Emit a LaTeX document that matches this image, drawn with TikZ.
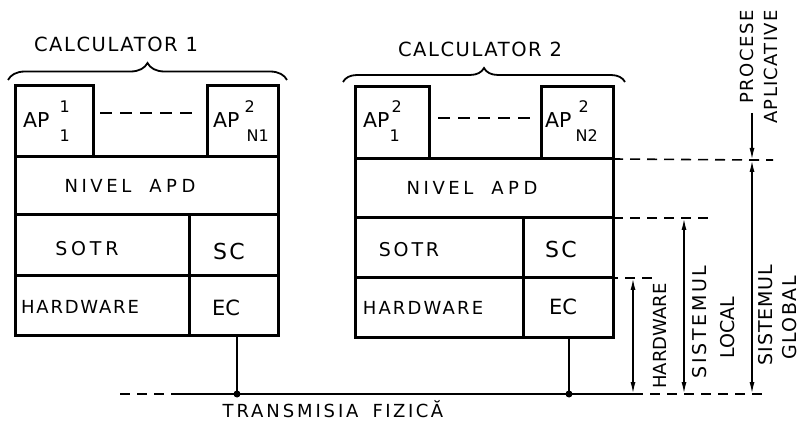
\documentclass[tikz,border=0pt]{standalone}
\usepackage{fontspec}
\setmainfont{DejaVu Sans}
\usetikzlibrary{decorations.pathreplacing,arrows.meta}
\newcommand\ls[2]{{\addfontfeature{LetterSpace=#1}#2}}
\newcommand\fsz[1]{\fontsize{#1}{#1}\selectfont}
\newcommand\apl[4]{AP\rlap{\kern#2pt\raisebox{15pt}{\fsz{16}#1}}\kern#4pt\raisebox{-14pt}{\fsz{16}#3}}
\begin{document}
\begin{tikzpicture}[x=1pt,y=-1pt,
  cell/.style={draw, line width=3pt, inner sep=0pt, outer sep=0pt},
  lbl/.style={inner sep=0pt, font=\fsz{18}},
  txt/.style={inner sep=0pt, anchor=base, font=\fsz{18}},
  conn/.style={line width=1.6pt},
  dsh/.style={line width=1.6pt, dash pattern=on 10pt off 7pt},
  dim/.style={line width=1.6pt, {Latex[length=12pt,width=5pt]}-{Latex[length=12pt,width=5pt]}},
  brc/.style={line width=1.8pt, decorate, decoration={brace, amplitude=#1}},
]
\useasboundingbox (0,0) rectangle (801,422);
% computer 1
\node[cell, minimum width=78pt, minimum height=71pt] (ap11) at (54,121.5) {};
\node[cell, minimum width=71pt, minimum height=71pt] (apn1) at (242.5,121.5) {};
\node[cell, minimum width=263pt, minimum height=58pt] (apd1) at (146.5,186) {};
\node[cell, minimum width=174pt, minimum height=61pt] (sotr1) at (102,245.5) {};
\node[cell, minimum width=89pt, minimum height=61pt] (sc1) at (233.5,245.5) {};
\node[cell, minimum width=174pt, minimum height=59pt] (hw1) at (102,305.5) {};
\node[cell, minimum width=89pt, minimum height=59pt] (ec1) at (233.5,305.5) {};
% computer 2
\node[cell, minimum width=74pt, minimum height=72pt] (ap12) at (392,123) {};
\node[cell, minimum width=72pt, minimum height=72pt] (apn2) at (577,123) {};
\node[cell, minimum width=258pt, minimum height=59pt] (apd2) at (484,188.5) {};
\node[cell, minimum width=168pt, minimum height=60pt] (sotr2) at (439,248) {};
\node[cell, minimum width=90pt, minimum height=60pt] (sc2) at (568,248) {};
\node[cell, minimum width=168pt, minimum height=59pt] (hw2) at (439,307.5) {};
\node[cell, minimum width=90pt, minimum height=59pt] (ec2) at (568,307.5) {};
% texts
\node[lbl, font=\fsz{20.5}, anchor=base west] (t-ap11) at (23,128) {\apl{1}{10}{1}{10}};
\node[lbl, font=\fsz{20.5}, anchor=base west] (t-apn1) at (213,128) {\apl{2}{5}{N1}{7}};
\node[lbl, font=\fsz{20.5}, anchor=base west] (t-ap12) at (363,128) {\apl{2}{2}{1}{0}};
\node[lbl, font=\fsz{20.5}, anchor=base west] (t-apn2) at (545,128) {\apl{2}{7}{N2}{4}};
\node[txt] (t-apd1) at (130,193) {\ls{20}{NIVEL}\hspace{18pt}\ls{25}{APD}};
\node[txt] (t-apd2) at (472,195) {\ls{20}{NIVEL}\hspace{18pt}\ls{25}{APD}};
\node[txt, font=\fsz{19}] (t-sotr1) at (87,256) {\ls{20}{SOTR}};
\node[txt, font=\fsz{19}] (t-sotr2) at (409,257) {\ls{15}{SOTR}};
\node[txt, font=\fsz{22}] (t-sc1) at (229,260) {\ls{10}{SC}};
\node[txt, font=\fsz{22}] (t-sc2) at (561,258) {\ls{10}{SC}};
\node[txt] (t-hw1) at (80,313) {\ls{10}{HARDWARE}};
\node[txt] (t-hw2) at (423,315) {\ls{12}{HARDWARE}};
\node[txt, font=\fsz{21}] (t-ec1) at (226,316) {EC};
\node[txt, font=\fsz{21}] (t-ec2) at (563,315) {EC};
\node[txt, font=\fsz{19.5}] (t-c1) at (116,52) {\ls{8}{CALCULATOR 1}};
\node[txt, font=\fsz{19.5}] (t-c2) at (480,57) {\ls{8}{CALCULATOR 2}};
\node[txt] (t-tf) at (333,417) {\ls{16}{TRANSMISIA}\hspace{14pt}\ls{14}{FIZICĂ}};
% braces
\draw[brc=17pt] (8,80) -- (287,80);
\draw[brc=14pt] (343,82) -- (625,82);
% dashed between APs
\draw[dsh, dash pattern=on 12pt off 8pt] ([yshift=8.5pt,xshift=7pt]ap11.east) -- ([yshift=8.5pt,xshift=-12pt]apn1.west);
\draw[dsh, dash pattern=on 12pt off 8pt] ([yshift=5pt,xshift=9pt]ap12.east) -- ([yshift=5pt,xshift=-11pt]apn2.west);
% bus
\coordinate (busL) at (120,394);
\coordinate (busD) at (175,394);
\coordinate (bus1) at (237,394);
\coordinate (bus2) at (569,394);
\coordinate (hwB) at (633,394);
\coordinate (loB) at (684,394);
\coordinate (glB) at (752,394);
\coordinate (busR) at (765,394);
\coordinate (hwT) at (633,278);
\coordinate (loT) at (684,218);
\coordinate (glT) at (752,160);
\coordinate (prT) at (752,113);
\draw[dsh] (busL) -- (busD);
\draw[conn] (busD) -- (hwB);
\draw[dsh] (hwB) -- (busR);
\draw[conn] (bus1 |- ec1.south) -- (bus1);
\draw[conn] (bus2 |- ec2.south) -- (bus2);
\fill (bus1) circle (3.5pt);
\fill (bus2) circle (3.5pt);
% right dashed levels
\draw[dsh] (apd2.north east) -- (glT) -- ++(21,0);
\draw[dsh] (apd2.south east) -- (loT) -- ++(24,0);
\draw[dsh] (hw2.north east) -- (hwT) -- ++(25,0);
% dimension arrows
\draw[dim] (hwT) -- (hwB);
\draw[dim] (loT) -- (loB);
\draw[dim] (glT) -- (glB);
\draw[conn, -{Latex[length=12pt,width=5pt]}] (prT) -- (glT);
% rotated labels
\node[lbl, rotate=90] (t-hwv) at (660,336) {HARDWARE};
\node[lbl, font=\fsz{19}, rotate=90] (t-sl1) at (700,322) {\ls{14}{SISTEMUL}};
\node[lbl, font=\fsz{19}, rotate=90] (t-sl2) at (728,328) {LOCAL};
\node[lbl, font=\fsz{19}, rotate=90] (t-sg1) at (766,315) {\ls{5}{SISTEMUL}};
\node[lbl, font=\fsz{19}, rotate=90] (t-sg2) at (790,318) {\ls{8}{GLOBAL}};
\node[lbl, rotate=90] (t-pr1) at (747,57) {\ls{8}{PROCESE}};
\node[lbl, rotate=90] (t-pr2) at (771,67) {\ls{7}{APLICATIVE}};
\end{tikzpicture}
\end{document}
